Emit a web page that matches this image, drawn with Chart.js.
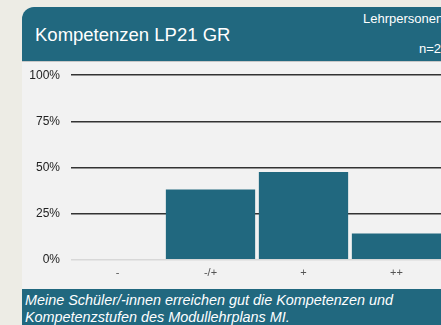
<!DOCTYPE html>
<html>
<head>
<meta charset="utf-8">
<script src="https://cdn.jsdelivr.net/npm/chart.js@4"></script>
<style>
  html, body { margin: 0; padding: 0; }
  body {
    width: 441px; height: 325px; overflow: hidden;
    background: #edece5;
    font-family: Arial, "Liberation Sans", sans-serif;
  }
  .panel {
    position: absolute; left: 22px; top: 7px; width: 440px; height: 330px;
    background: #f2f2f2; border-top-left-radius: 12px; overflow: hidden;
  }
  .head {
    position: absolute; left: 0; top: 0; width: 100%; height: 54px; z-index: 2;
    background: #21687f; border-bottom: 1px solid #c8c8c8;
  }
  .title {
    position: absolute; left: 13px; top: 17px; color: #fff;
    font-size: 18.5px; white-space: nowrap;
  }
  .meta1, .meta2 {
    position: absolute; color: #fff; font-size: 13px; white-space: nowrap;
  }
  .meta1 { left: 341px; top: 4px; }
  .meta2 { left: 397px; top: 34px; }
  .chartbox {
    position: absolute; left: 0; top: 50px; width: 423px; height: 230px;
  }
  .foot {
    position: absolute; left: 0; top: 282px; width: 100%; height: 50px; z-index: 2;
    background: #21687f; color: #fff; font-style: italic; font-size: 14.4px;
    line-height: 17px; padding: 3px 3px; box-sizing: border-box;
  }
</style>
</head>
<body>
<div class="panel">
  <div class="head">
    <div class="title">Kompetenzen LP21 GR</div>
    <div class="meta1">Lehrpersonen</div>
    <div class="meta2">n=21</div>
  </div>
  <div class="chartbox"><canvas id="chart"></canvas></div>
  <div class="foot">Meine Schüler/-innen erreichen gut die Kompetenzen und<br>Kompetenzstufen des Modullehrplans MI.</div>
</div>
<script>
const categories = ['-', '-/+', '+', '++'];
const shares = [0, 38.1, 47.6, 14.3];   // percent of answers
const yTicks = [0, 25, 50, 75, 100];

const teal = '#21687f';

new Chart(document.getElementById('chart'), {
    type: 'bar',
    data: {
        labels: categories,
        datasets: [{
            data: shares,
            backgroundColor: teal,
            borderWidth: 0,
            barPercentage: 0.96,
            categoryPercentage: 1
        }]
    },
    options: {
        responsive: true,
        maintainAspectRatio: false,
        animation: false,
        layout: { padding: { top: 1, right: 2, bottom: 0, left: 0 } },
        plugins: { legend: { display: false }, tooltip: { enabled: false } },
        scales: {
            x: {
                grid: { display: false, drawTicks: false },
                border: { display: false },
                ticks: { color: '#555', font: { size: 11, family: 'Arial' }, padding: 7 }
            },
            y: {
                min: 0,
                max: 100,
                afterFit: (axis) => { axis.width = 49; },
                afterBuildTicks: (axis) => { axis.ticks = yTicks.map(v => ({ value: v })); },
                border: { display: false },
                grid: {
                    drawTicks: false,
                    lineWidth: 1.5,
                    color: (ctx) => ctx.tick && ctx.tick.value === 0 ? '#d8d8d8' : '#333'
                },
                ticks: {
                    color: '#222',
                    padding: 11,
                    font: { size: 12, family: 'Arial' },
                    callback: (v) => v + '%'
                }
            }
        }
    }
});
</script>
</body>
</html>
